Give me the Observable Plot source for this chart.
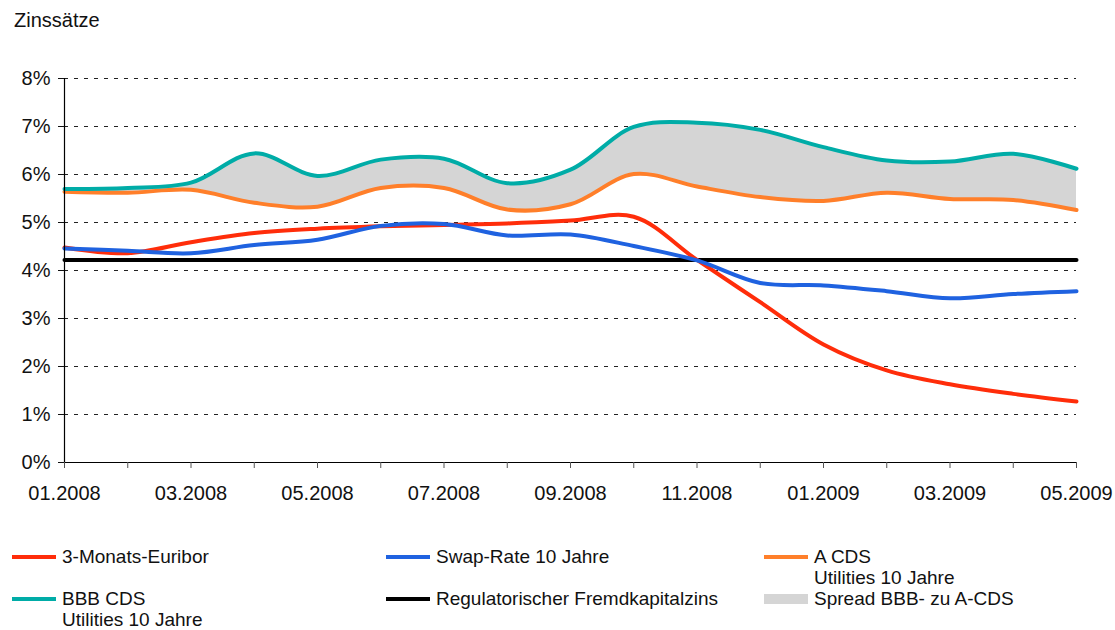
<!DOCTYPE html>
<html><head><meta charset="utf-8">
<script src="https://cdn.jsdelivr.net/npm/d3@7"></script>
<script src="https://cdn.jsdelivr.net/npm/@observablehq/plot@0.6"></script>
<style>
body{margin:0;background:#fff;font-family:"Liberation Sans",Arial,Helvetica,sans-serif;color:#111;}
#wrap{position:relative;width:1115px;height:630px;overflow:hidden;}
#title{position:absolute;left:14px;top:8px;font-size:20px;line-height:24px;}
#chart{position:absolute;left:0;top:40px;}
.leg{position:absolute;font-size:19px;line-height:21px;white-space:nowrap;}
.sw{position:absolute;}
</style></head><body>
<div id="wrap">
<div id="title">Zinssätze</div>
<div id="chart"></div>
<div id="legend"></div>
</div>
<script>
const months = ["01.2008","02.2008","03.2008","04.2008","05.2008","06.2008","07.2008","08.2008","09.2008","10.2008","11.2008","12.2008","01.2009","02.2009","03.2009","04.2009","05.2009"];
const euribor = [4.48, 4.36, 4.59, 4.78, 4.87, 4.92, 4.95, 4.98, 5.04, 5.12, 4.22, 3.34, 2.46, 1.92, 1.63, 1.43, 1.27];
const swapRate = [4.46, 4.41, 4.36, 4.53, 4.64, 4.93, 4.97, 4.73, 4.75, 4.51, 4.21, 3.74, 3.69, 3.57, 3.42, 3.51, 3.57];
const aCds = [5.64, 5.62, 5.68, 5.41, 5.33, 5.72, 5.72, 5.27, 5.38, 6.01, 5.75, 5.53, 5.45, 5.62, 5.49, 5.47, 5.26];
const bbbCds = [5.70, 5.72, 5.83, 6.44, 5.97, 6.31, 6.33, 5.82, 6.10, 6.99, 7.08, 6.93, 6.57, 6.29, 6.27, 6.43, 6.12];
const regZins = [4.22, 4.22, 4.22, 4.22, 4.22, 4.22, 4.22, 4.22, 4.22, 4.22, 4.22, 4.22, 4.22, 4.22, 4.22, 4.22, 4.22];
const yTicks = [0, 1, 2, 3, 4, 5, 6, 7, 8];
const legendLabels = ["3-Monats-Euribor", "Swap-Rate 10 Jahre", "A CDS\nUtilities 10 Jahre", "BBB CDS\nUtilities 10 Jahre", "Regulatorischer Fremdkapitalzins", "Spread BBB- zu A-CDS"];

const colors = {euribor:"#ff2d0a", swap:"#1f62e0", a:"#ff7f2a", bbb:"#00aca7", reg:"#000000", spread:"#d5d5d5"};
const legendColors = [colors.euribor, colors.swap, colors.a, colors.bbb, colors.reg, colors.spread];

const rows = months.map((m, i) => ({i, month: m, euribor: euribor[i], swap: swapRate[i], a: aCds[i], bbb: bbbCds[i], reg: regZins[i]}));
const curve = "catmull-rom";
const sw = 4;

const chart = Plot.plot({
  width: 1115,
  height: 470,
  marginTop: 38,
  marginBottom: 48,
  marginLeft: 64,
  marginRight: 39,
  style: {fontSize: "20px", fontFamily: "'Liberation Sans', Arial, Helvetica, sans-serif", color: "#111", background: "white"},
  x: {domain: [0, months.length - 1]},
  y: {domain: [0, 8]},
  marks: [
    Plot.ruleY(yTicks.filter(d => d > 0), {stroke: "#222", strokeWidth: 1, strokeDasharray: "4,6"}),
    Plot.areaY(rows, {x: "i", y1: "a", y2: "bbb", fill: colors.spread, curve}),
    Plot.lineY(rows, {x: "i", y: "reg", stroke: colors.reg, strokeWidth: sw}),
    Plot.lineY(rows, {x: "i", y: "euribor", stroke: colors.euribor, strokeWidth: sw, curve}),
    Plot.lineY(rows, {x: "i", y: "swap", stroke: colors.swap, strokeWidth: sw, curve}),
    Plot.lineY(rows, {x: "i", y: "a", stroke: colors.a, strokeWidth: sw, curve}),
    Plot.lineY(rows, {x: "i", y: "bbb", stroke: colors.bbb, strokeWidth: sw, curve}),
    Plot.ruleY([0], {stroke: "#000", strokeWidth: 1.2}),
    Plot.ruleX([0], {stroke: "#000", strokeWidth: 1.2}),
    Plot.axisX({ticks: months.map((_, i) => i), tickFormat: i => i % 2 === 0 ? months[i] : "", tickSize: 6, tickPadding: 17, label: null, stroke: "#555"}),
    Plot.axisY({ticks: yTicks, tickFormat: d => d + "%", tickSize: 6, tickPadding: 8, label: null})
  ]
});
document.getElementById("chart").appendChild(chart);

// legend
const legend = document.getElementById("legend");
const colX = [12, 386, 764];
const rowY = [546, 588];
legendLabels.forEach((lab, k) => {
  const c = k % 3, r = Math.floor(k / 3);
  const isSpread = k === 5;
  const s = document.createElement("div");
  s.className = "sw";
  s.style.left = colX[c] + "px";
  s.style.width = "44px";
  s.style.height = isSpread ? "10px" : "4px";
  s.style.top = (rowY[r] + 11 - (isSpread ? 5 : 2)) + "px";
  s.style.background = legendColors[k];
  legend.appendChild(s);
  const t = document.createElement("div");
  t.className = "leg";
  t.style.left = (colX[c] + 50) + "px";
  t.style.top = rowY[r] + "px";
  t.innerHTML = lab.split("\n").join("<br>");
  legend.appendChild(t);
});
</script>
</body></html>
